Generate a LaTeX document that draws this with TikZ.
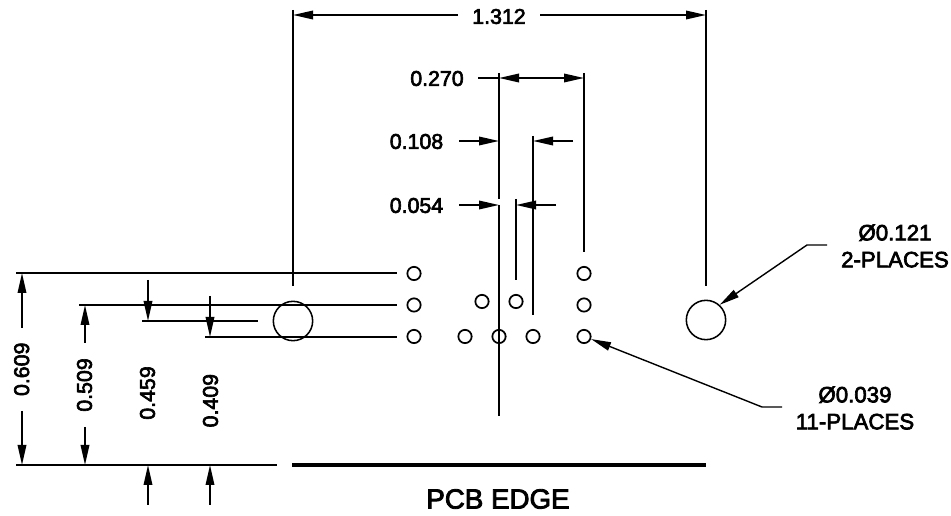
\documentclass[tikz,border=0pt]{standalone}
\usepackage{fontspec}
\setmainfont[FakeBold=3]{Liberation Sans}
\usetikzlibrary{arrows.meta}
\tikzset{
  px/.style={x=0.75pt,y=-0.75pt},
  ln/.style={line width=1.3pt,line cap=butt},
  tip/.tip={Triangle[length=15pt,width=6.4pt]},
  dim/.style={ln,-tip},
  lead/.style={line width=1.05pt,-tip},
  lbl/.style={inner sep=0pt,font=\fontsize{16}{20}\selectfont,align=center},
  note/.style={inner sep=0pt,font=\fontsize{16.7}{20.2}\selectfont,align=center},
  big/.style={circle,draw,line width=1.15pt,minimum size=29.5pt,inner sep=0pt},
  hole/.style={circle,draw,line width=1.3pt,minimum size=10pt,inner sep=0pt},
}
\begin{document}
\begin{tikzpicture}[px]
\useasboundingbox (0,0) rectangle (951,516);
% holes
\node[big] (L) at (293,321) {};
\node[big] (R) at (706,320) {};
\foreach \n/\x/\y in {a/414/273.5,b/414/305,c/414/336.5,d/584/273.5,e/584/305,f/584/336.5,g/465/336.5,h/499/336.5,i/533/336.5,j/482/301.5,k/516/301.5}
  \node[hole] (\n) at (\x,\y) {};
% extension lines
\coordinate (h1a) at (16,273);   \coordinate (h1b) at (397,273);
\coordinate (h2a) at (79,305);   \coordinate (h2b) at (397,305);
\coordinate (h3a) at (142,321);  \coordinate (h3b) at (258,321);
\coordinate (h4a) at (205,337);  \coordinate (h4b) at (397,337);
\coordinate (base) at (16,465);    \coordinate (baseb) at (277,465);
\draw[ln] (h1a)--(h1b);
\draw[ln] (h2a)--(h2b);
\draw[ln] (h3a)--(h3b);
\draw[ln] (h4a)--(h4b);
\draw[ln] (base)--(baseb);
\coordinate (edgeL) at (292,465); \coordinate (edgeR) at (706,465);
\draw[line width=3pt] (edgeL)--(edgeR);
% vertical extension lines
\coordinate (vL1) at (293,10);  \coordinate (vL2) at (293,286);
\coordinate (vR1) at (706,10);  \coordinate (vR2) at (706,286);
\draw[ln] (vL1)--(vL2);
\draw[ln] (vR1)--(vR2);
\coordinate (v1a) at (499,73);  \coordinate (v1b) at (499,199);
\coordinate (v1c) at (499,205); \coordinate (v1d) at (499,416);
\coordinate (v2a) at (516,199); \coordinate (v2b) at (516,280);
\coordinate (v3a) at (533,136); \coordinate (v3b) at (533,315);
\coordinate (v4a) at (584,73);  \coordinate (v4b) at (584,252);
\draw[ln] (v1a)--(v1b);
\draw[ln] (v1c)--(v1d);
\draw[ln] (v2a)--(v2b);
\draw[ln] (v3a)--(v3b);
\draw[ln] (v4a)--(v4b);
% 1.312
\coordinate (t1) at (458,15); \coordinate (t1e) at (293,15);
\coordinate (t2) at (540,15); \coordinate (t2e) at (706,15);
\draw[dim] (t1)--(t1e);
\draw[dim] (t2)--(t2e);
\node[lbl] (n1312) at (499,16.5) {1.312};
% 0.270
\coordinate (a1) at (478,78); \coordinate (a1e) at (499,78);
\coordinate (a2e) at (584,78);
\draw[ln] (a1)--(a1e);
\draw[ln,tip-tip] (a1e)--(a2e);
\node[lbl] (n270) at (437,78.5) {0.270};
% 0.108
\coordinate (b1) at (459,141); \coordinate (b1e) at (499,141);
\coordinate (b2) at (573,141); \coordinate (b2e) at (533,141);
\draw[dim] (b1)--(b1e);
\draw[dim] (b2)--(b2e);
\node[lbl] (n108) at (416.5,141.5) {0.108};
% 0.054
\coordinate (c1) at (459,205); \coordinate (c1e) at (499,205);
\coordinate (c2) at (556,205); \coordinate (c2e) at (516,205);
\draw[dim] (c1)--(c1e);
\draw[dim] (c2)--(c2e);
\node[lbl] (n054) at (416.5,205.5) {0.054};
% vertical dims
\coordinate (d1a) at (22,327.7); \coordinate (d1ae) at (22,273);
\coordinate (d1b) at (22,411);   \coordinate (d1be) at (22,465);
\draw[dim] (d1a)--(d1ae);
\draw[dim] (d1b)--(d1be);
\node[lbl,rotate=90] (n609) at (21.7,369.3) {0.609};
\coordinate (d2a) at (85,343);   \coordinate (d2ae) at (85,305);
\coordinate (d2b) at (85,427);   \coordinate (d2be) at (85,465);
\draw[dim] (d2a)--(d2ae);
\draw[dim] (d2b)--(d2be);
\node[lbl,rotate=90] (n509) at (84.5,385) {0.509};
\coordinate (d3a) at (148,280);  \coordinate (d3ae) at (148,321);
\coordinate (d3b) at (148,505);  \coordinate (d3be) at (148,465);
\draw[dim] (d3a)--(d3ae);
\draw[dim] (d3b)--(d3be);
\node[lbl,rotate=90] (n459) at (147.5,393) {0.459};
\coordinate (d4a) at (210,296);    \coordinate (d4ae) at (210,337);
\coordinate (d4b) at (210,505);    \coordinate (d4be) at (210,465);
\draw[dim] (d4a)--(d4ae);
\draw[dim] (d4b)--(d4be);
\node[lbl,rotate=90] (n409) at (210.5,400.7) {0.409};
% leaders
\coordinate (la) at (827,245); \coordinate (lb) at (807,245);
\draw[lead] (la)--(lb)--(R.48);
\node[note] (n121) at (895,246) {Ø0.121\\2-PLACES};
\coordinate (lc) at (782,407); \coordinate (ld) at (762,407);
\draw[lead] (lc)--(ld)--(f.-20);
\node[note] (n039) at (855,408) {Ø0.039\\11-PLACES};
\node[inner sep=0pt,font=\fontsize{20.8}{24}\selectfont] (pcb) at (498,499) {PCB EDGE};
\end{tikzpicture}
\end{document}
